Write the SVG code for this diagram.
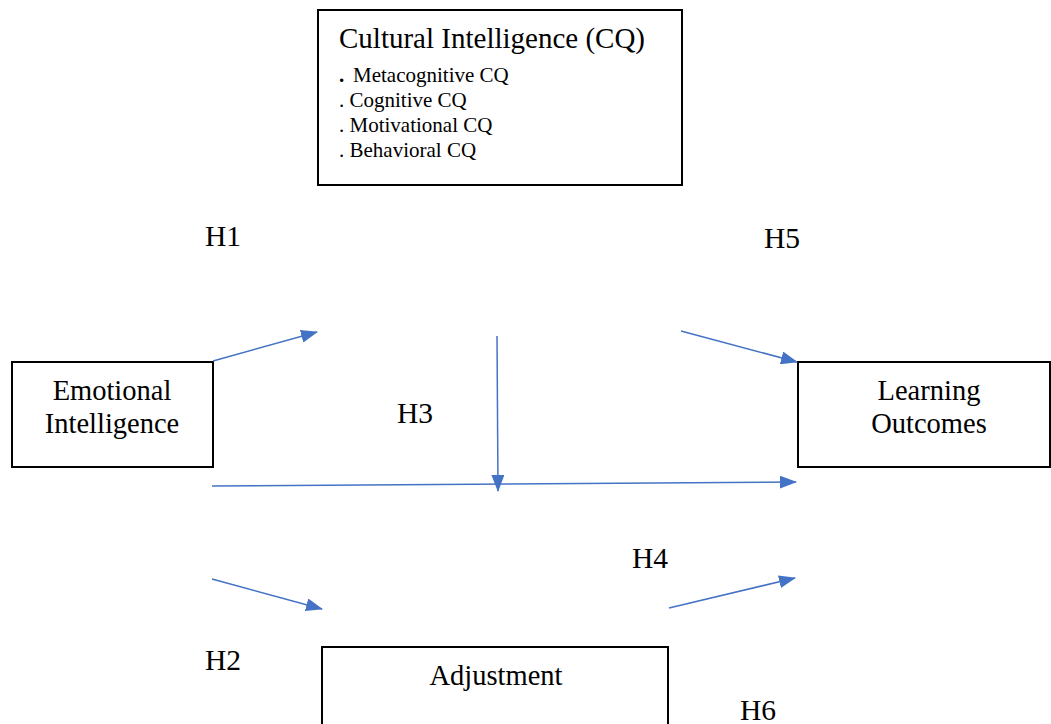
<svg xmlns="http://www.w3.org/2000/svg" width="1051" height="724" viewBox="0 0 1051 724">
  <style>
    .box { fill: #ffffff; stroke: #000000; stroke-width: 2; }
    .label { font-family: "Liberation Serif", "Times New Roman", serif; font-size: 28.5px; fill: #000000; }
    .title { font-family: "Liberation Serif", "Times New Roman", serif; font-size: 29px; fill: #000000; }
    .mid { text-anchor: middle; }
    .item { font-family: "Liberation Serif", "Times New Roman", serif; font-size: 21px; fill: #000000; }
    .hyp { font-family: "Liberation Serif", "Times New Roman", serif; font-size: 29.5px; fill: #000000; }
    .link { fill: none; stroke: #4472C4; stroke-width: 1.5; marker-end: url(#head); }
  </style>
  <defs>
    <marker id="head" viewBox="0 0 17 13" refX="16" refY="6.5" markerWidth="17" markerHeight="13" markerUnits="userSpaceOnUse" orient="auto">
      <path d="M0,0 L17,6.5 L0,13 z" fill="#4472C4"/>
    </marker>
  </defs>

  <rect width="1051" height="724" fill="#ffffff"/>

  <!-- Cultural Intelligence construct with its four dimensions -->
  <g id="cq">
    <rect class="box" x="318" y="10" width="364" height="175"/>
    <text class="title" x="339" y="48">Cultural Intelligence (CQ)</text>
    <text class="item" x="339" y="82"><tspan font-weight="bold">.</tspan><tspan x="353">Metacognitive CQ</tspan></text>
    <text class="item" x="339" y="107">. Cognitive CQ</text>
    <text class="item" x="339" y="132">. Motivational CQ</text>
    <text class="item" x="339" y="157">. Behavioral CQ</text>
  </g>

  <g id="emotional-intelligence">
    <rect class="box" x="12" y="362" width="201" height="105"/>
    <text class="label mid" x="112" y="400">Emotional</text>
    <text class="label mid" x="112" y="433">Intelligence</text>
  </g>

  <g id="learning-outcomes">
    <rect class="box" x="798" y="362" width="252" height="105"/>
    <text class="label mid" x="929" y="400">Learning</text>
    <text class="label mid" x="929" y="433">Outcomes</text>
  </g>

  <g id="adjustment">
    <rect class="box" x="322" y="647" width="346" height="90"/>
    <text class="label mid" x="496" y="685">Adjustment</text>
  </g>

  <!-- Hypothesis labels -->
  <g id="hypotheses">
    <text class="hyp" x="205" y="246">H1</text>
    <text class="hyp" x="764" y="248">H5</text>
    <text class="hyp" x="397" y="423">H3</text>
    <text class="hyp" x="632" y="568">H4</text>
    <text class="hyp" x="205" y="670">H2</text>
    <text class="hyp" x="740" y="720">H6</text>
  </g>

  <!-- Connectors -->
  <g id="connectors">
    <line class="link" x1="213" y1="361" x2="317" y2="332"/>
    <line class="link" x1="681" y1="331" x2="797" y2="362"/>
    <line class="link" x1="497" y1="336" x2="498" y2="491"/>
    <line class="link" x1="212" y1="486" x2="796" y2="482"/>
    <line class="link" x1="212" y1="579" x2="322" y2="609"/>
    <line class="link" x1="669" y1="608" x2="795" y2="578"/>
  </g>
</svg>
